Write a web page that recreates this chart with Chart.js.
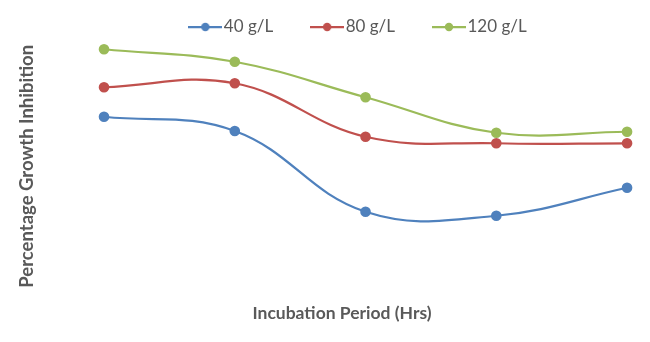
<!DOCTYPE html>
<html>
<head>
<meta charset="utf-8">
<script src="https://cdn.jsdelivr.net/npm/chart.js@4/dist/chart.umd.min.js"></script>
<style>
html,body{margin:0;padding:0;background:#fff}
#wrap{width:650px;height:342px;position:relative}
</style>
</head>
<body>
<div id="wrap"><canvas id="c"></canvas></div>
<script>
// incubation periods (tick labels are not shown in the figure)
const periods=[0,1,2,3,4]
const series40=[72.7,67.0,34.7,33.1,44.3]
const series80=[84.5,86.1,64.7,62.1,62.1]
const series120=[99.7,94.7,80.5,66.3,66.7]
const names=['40 g/L','80 g/L','120 g/L']
const colors=['#4F81BD','#C0504D','#9BBB59']
const grey='#595959'

// legend marker: short line with a dot, like the original
function legendIcon(color){
    const cv=document.createElement('canvas')
    cv.width=34
    cv.height=10
    const g=cv.getContext('2d')
    g.strokeStyle=color
    g.lineWidth=2.25
    g.beginPath()
    g.moveTo(0,5)
    g.lineTo(34,5)
    g.stroke()
    g.fillStyle=color
    g.beginPath()
    g.arc(17,5,4.2,0,Math.PI*2)
    g.fill()
    return cv
}
const icons=colors.map(legendIcon)

function makeSet(i,values){
    return {
        label:names[i],
        data:values.map((v,k)=>({x:periods[k],y:v})),
        borderColor:colors[i],
        backgroundColor:colors[i],
        borderWidth:2.25,
        pointRadius:4.2,
        pointHoverRadius:4.2,
        tension:0.4,
        clip:false
    }
}

const chart=new Chart(document.getElementById('c'),{
    type:'line',
    data:{
        datasets:[makeSet(0,series40),makeSet(1,series80),makeSet(2,series120)]
    },
    options:{
        responsive:true,
        maintainAspectRatio:false,
        animation:false,
        layout:{padding:{left:0,right:-72,top:-25.5,bottom:14.5}},
        plugins:{
            tooltip:{enabled:false},
            legend:{
                position:'top',
                labels:{
                    usePointStyle:true,
                    pointStyleWidth:20,
                    padding:44,
                    color:grey,
                    font:{family:'Lato',size:17},
                    generateLabels(ch){
                        const items=Chart.defaults.plugins.legend.labels.generateLabels(ch)
                        items.forEach((it,i)=>{it.pointStyle=icons[i]})
                        return items
                    }
                }
            }
        },
        scales:{
            x:{
                type:'linear',
                min:-0.485,
                max:4.125,
                grid:{display:false,drawTicks:false},
                border:{display:false},
                ticks:{display:false},
                title:{display:true,text:'Incubation Period (Hrs)',color:grey,padding:{top:15.5,bottom:4},font:{family:'Lato',size:17.5,weight:'bold'}}
            },
            y:{
                min:4.6,
                max:101.2,
                grid:{display:false,drawTicks:false},
                border:{display:false},
                ticks:{display:false},
                title:{display:true,text:'Percentage Growth Inhibition',color:grey,padding:{top:15.9,bottom:2.5},font:{family:'Lato',size:18.5,weight:'bold'}}
            },
            // empty right axis, only keeps the plot centred like the original
            y2:{
                position:'right',
                grid:{display:false,drawTicks:false},
                border:{display:false},
                ticks:{display:false},
                afterFit(s){s.width=78.6}
            }
        }
    }
})
</script>
</body>
</html>
